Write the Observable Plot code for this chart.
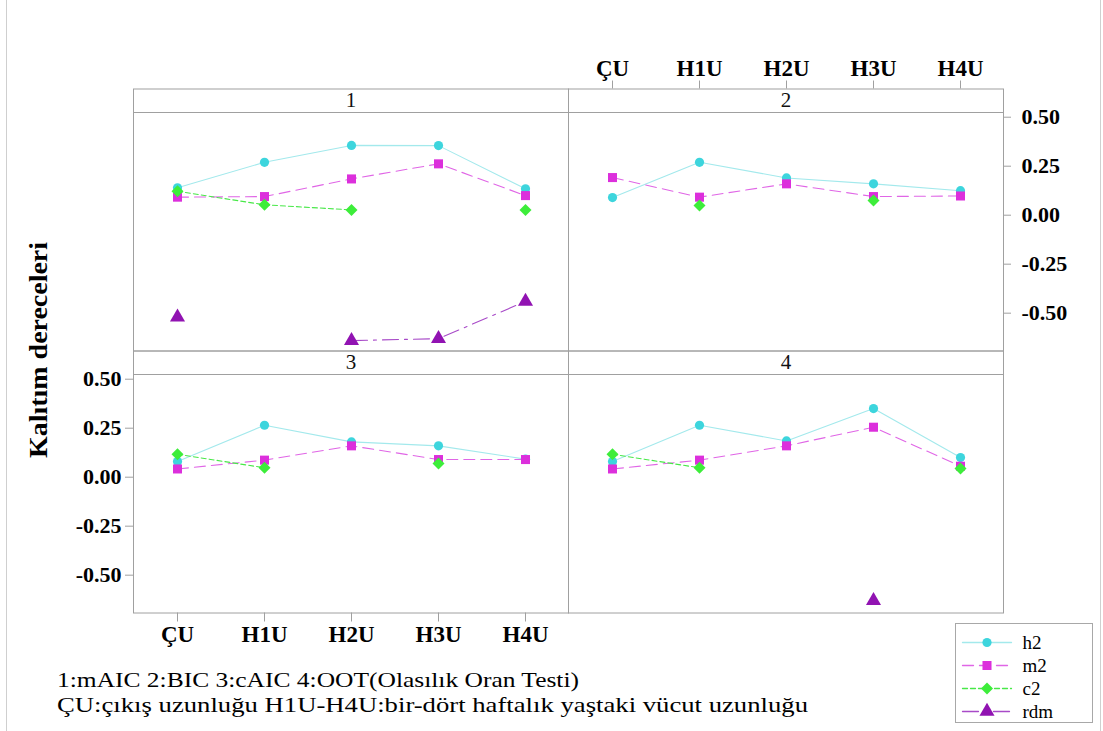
<!DOCTYPE html>
<html><head><meta charset="utf-8">
<script src="https://cdn.jsdelivr.net/npm/d3@7"></script>
<script src="https://cdn.jsdelivr.net/npm/@observablehq/plot@0.6"></script>
<style>
html,body{margin:0;padding:0;background:#fff;}
body{width:1103px;height:731px;position:relative;overflow:hidden;}
#chart{position:absolute;left:0;top:0;}
#legend{position:absolute;left:955px;top:623px;width:136px;height:98px;border:1px solid #a8a8a8;background:#fff;}
#legend svg{display:block;}
#notes{position:absolute;left:0;top:0;pointer-events:none;}
.edge{position:absolute;top:0;width:1px;height:731px;background:#cfcfcf;}
</style></head><body>
<div class="edge" style="left:6px"></div>
<div class="edge" style="left:1100px"></div>
<div id="chart"></div>
<svg id="notes" width="1103" height="731">
  <text x="0" y="0" transform="translate(47,350) rotate(-90)" text-anchor="middle" font-family="Liberation Serif" font-weight="bold" font-size="25" textLength="216" lengthAdjust="spacingAndGlyphs">Kalıtım dereceleri</text>
  <text x="57" y="687" font-family="Liberation Serif" font-size="22" textLength="522" lengthAdjust="spacingAndGlyphs">1:mAIC 2:BIC 3:cAIC 4:OOT(Olasılık Oran Testi)</text>
  <text x="57" y="712" font-family="Liberation Serif" font-size="22" textLength="751" lengthAdjust="spacingAndGlyphs">ÇU:çıkış uzunluğu H1U-H4U:bir-dört haftalık yaştaki vücut uzunluğu</text>
</svg>
<div id="legend"></div>
<script>
// ---- data ----
const stages = ["ÇU", "H1U", "H2U", "H3U", "H4U"];
const models = ["1", "2", "3", "4"];           // 1:mAIC 2:BIC 3:cAIC 4:OOT
const panelCol = ["L", "R", "L", "R"];
const panelRow = ["T", "T", "B", "B"];
const seriesNames = ["h2", "m2", "c2", "rdm"];
const yTicks = [0.50, 0.25, 0.00, -0.25, -0.50];

const h2  = [[0.14, 0.27, 0.356, 0.355, 0.135],
             [0.09, 0.27, 0.19, 0.16, 0.125],
             [0.08, 0.265, 0.18, 0.16, 0.092],
             [0.08, 0.265, 0.185, 0.35, 0.10]];
const m2  = [[0.092, 0.095, 0.185, 0.262, 0.10],
             [0.192, 0.092, 0.16, 0.095, 0.098],
             [0.042, 0.087, 0.16, 0.09, 0.09],
             [0.042, 0.087, 0.16, 0.255, 0.056]];
const c2  = [[0.122, 0.053, 0.027, null, 0.027],
             [null, 0.049, null, 0.075, null],
             [0.117, 0.048, null, 0.07, null],
             [0.117, 0.048, null, null, 0.044]];
const rdm = [[-0.52, null, -0.64, -0.63, -0.44],
             [null, null, null, null, null],
             [null, null, null, null, null],
             [null, null, null, -0.63, null]];

// ---- styles ----
const styles = {
  h2:  {line: "#a3e9ec", fill: "#3dd5dd", dash: null,        symbol: "circle",   r: 4.6},
  m2:  {line: "#e066e6", fill: "#dc2fdc", dash: "11,6",      symbol: "square",   r: 5.1},
  c2:  {line: "#48e848", fill: "#3ded3a", dash: "5,3",       symbol: "diamond2", r: 5.4},
  rdm: {line: "#a84ac8", fill: "#9113b2", dash: "16,6,3,6",  symbol: "triangle", r: 5.6}
};

const table = {h2, m2, c2, rdm};
const rows = [];
models.forEach((m, i) => stages.forEach((s, j) => seriesNames.forEach(name => {
  rows.push({model: m, col: panelCol[i], row: panelRow[i], stage: s, series: name, value: table[name][i][j]});
})));
const panels = models.map((m, i) => ({model: m, col: panelCol[i], row: panelRow[i]}));

const W = 1103, H = 731, mL = 133, mR = 100, mT = 112, mB = 118.5;
const facetW = (W - mL - mR) / 2;
const strip = 23.5;
const yDom = [-0.693, 0.524];
const gray = "#a0a0a0";
const tickFont = {fontFamily: "Liberation Serif", fontWeight: "bold", fill: "#000", lineAnchor: "middle"};

const topAxis = stages.map(s => ({stage: s, col: "R", row: "T"}));
const botAxis = stages.map(s => ({stage: s, col: "L", row: "B"}));
const rightAxis = yTicks.map(v => ({v, col: "R", row: "T"}));
const leftAxis = yTicks.map(v => ({v, col: "L", row: "B"}));

const marks = [
  Plot.frame({stroke: gray, insetTop: -strip}),
  Plot.ruleY([yDom[1]], {stroke: gray}),
  Plot.text(panels, {fx: "col", fy: "row", text: "model", frameAnchor: "top", lineAnchor: "middle", dy: -strip / 2, fontSize: 21, fontFamily: "Liberation Serif", fill: "#111"}),
  // top x axis (right column)
  Plot.ruleX(topAxis, {x: "stage", y1: () => yDom[1], y2: () => yDom[1], fx: "col", fy: "row", insetTop: -(strip + 8), insetBottom: strip, stroke: gray}),
  Plot.text(topAxis, {x: "stage", fx: "col", fy: "row", text: "stage", frameAnchor: "top", dy: -(strip + 20), fontSize: 23, ...tickFont}),
  // bottom x axis (left column)
  Plot.ruleX(botAxis, {x: "stage", y1: () => yDom[0], y2: () => yDom[0], fx: "col", fy: "row", insetTop: 0, insetBottom: -9, stroke: gray}),
  Plot.text(botAxis, {x: "stage", fx: "col", fy: "row", text: "stage", frameAnchor: "bottom", dy: 22, fontSize: 23, ...tickFont}),
  // right y axis (top row)
  Plot.ruleY(rightAxis, {y: "v", fx: "col", fy: "row", insetLeft: facetW, insetRight: -8, stroke: gray}),
  Plot.text(rightAxis, {y: "v", fx: "col", fy: "row", text: d => d.v.toFixed(2), frameAnchor: "right", dx: 18, textAnchor: "start", fontSize: 22, letterSpacing: 1, ...tickFont}),
  // left y axis (bottom row)
  Plot.ruleY(leftAxis, {y: "v", fx: "col", fy: "row", insetLeft: -8, insetRight: facetW, stroke: gray}),
  Plot.text(leftAxis, {y: "v", fx: "col", fy: "row", text: d => d.v.toFixed(2), frameAnchor: "left", dx: -12, textAnchor: "end", fontSize: 22, letterSpacing: 1, ...tickFont})
];
for (const s of seriesNames) {
  const st = styles[s];
  marks.push(Plot.line(rows.filter(d => d.series === s), {x: "stage", y: "value", fx: "col", fy: "row", stroke: st.line, strokeWidth: 1.1, strokeDasharray: st.dash}));
}
for (const s of seriesNames) {
  const st = styles[s];
  marks.push(Plot.dot(rows.filter(d => d.series === s && d.value != null), {x: "stage", y: "value", fx: "col", fy: "row", symbol: st.symbol, r: st.r, fill: st.fill, stroke: "none"}));
}

const chart = Plot.plot({
  width: W, height: H,
  marginLeft: mL, marginRight: mR, marginTop: mT, marginBottom: mB,
  x: {type: "point", domain: stages, padding: 0.5, axis: null},
  y: {domain: yDom, axis: null},
  fx: {domain: ["L", "R"], paddingInner: 0, paddingOuter: 0, axis: null, round: false},
  fy: {domain: ["T", "B"], paddingInner: strip / (238.5 + strip), paddingOuter: 0, axis: null, round: false},
  style: {background: "transparent", overflow: "visible"},
  marks
});
document.getElementById("chart").appendChild(chart);

// ---- legend ----
const legRows = seriesNames.flatMap(s => [{s, x: 0}, {s, x: 1}]);
const legMarks = [];
for (const s of seriesNames) {
  const st = styles[s];
  legMarks.push(Plot.line(legRows.filter(d => d.s === s), {x: "x", y: "s", stroke: st.line, strokeWidth: 1.3, strokeDasharray: st.dash}));
  legMarks.push(Plot.dot([{s, x: 0.5}], {x: "x", y: "s", symbol: st.symbol, r: st.r, fill: st.fill, stroke: "none"}));
}
legMarks.push(Plot.text(seriesNames, {x: () => 1, y: d => d, text: d => d, dx: 11, textAnchor: "start", fontSize: 19, fontFamily: "Liberation Serif", fill: "#000"}));
const legend = Plot.plot({
  width: 136, height: 98, margin: 0,
  x: {domain: [0, 1], range: [6, 55], axis: null},
  y: {type: "point", domain: seriesNames, range: [17, 88], padding: 0, axis: null},
  style: {background: "transparent", overflow: "visible"},
  marks: legMarks
});
document.getElementById("legend").appendChild(legend);
</script>
</body></html>
